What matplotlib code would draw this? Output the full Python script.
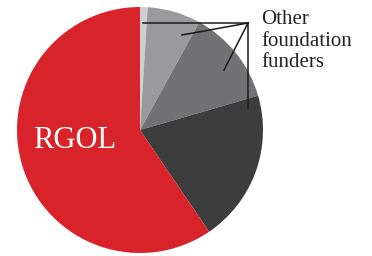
import matplotlib.pyplot as plt

# slice shares, clockwise from 12 o'clock
labels = ["Other 1", "Other 2", "Other 3", "Other 4", "RGOL"]
values = [1.0, 7.0, 12.5, 20.0, 59.5]
colors = ["#cfcfd1", "#9a9a9c", "#727274", "#3d3d3d", "#d9232b"]

fig = plt.figure(figsize=(3.72, 2.56), dpi=100)
ax = fig.add_axes([0, 0, 1, 1])

ax.pie(values, colors=colors, startangle=90, counterclock=False,
       center=(140, 126), radius=123, frame=True,
       wedgeprops={"linewidth": 0})
ax.set_xlim(0, 372)
ax.set_ylim(0, 256)
ax.set_aspect("equal")
ax.axis("off")

ax.text(75, 116, "RGOL", color="white", fontsize=22,
        family="Liberation Serif", ha="center", va="center")
ax.text(261, 215, "Other\nfoundation\nfunders", color="#222222", fontsize=15,
        family="Liberation Serif", ha="left", va="center", linespacing=1.15)

# leader lines
lc = "#1a1a1a"
ax.plot([143, 248], [233, 233], color=lc, lw=1.1)
ax.plot([182, 248], [221, 233], color=lc, lw=1.1)
ax.plot([224, 248], [186, 233], color=lc, lw=1.1)
ax.plot([248, 248], [148, 233], color=lc, lw=1.1)

plt.savefig("out.png", dpi=100)
